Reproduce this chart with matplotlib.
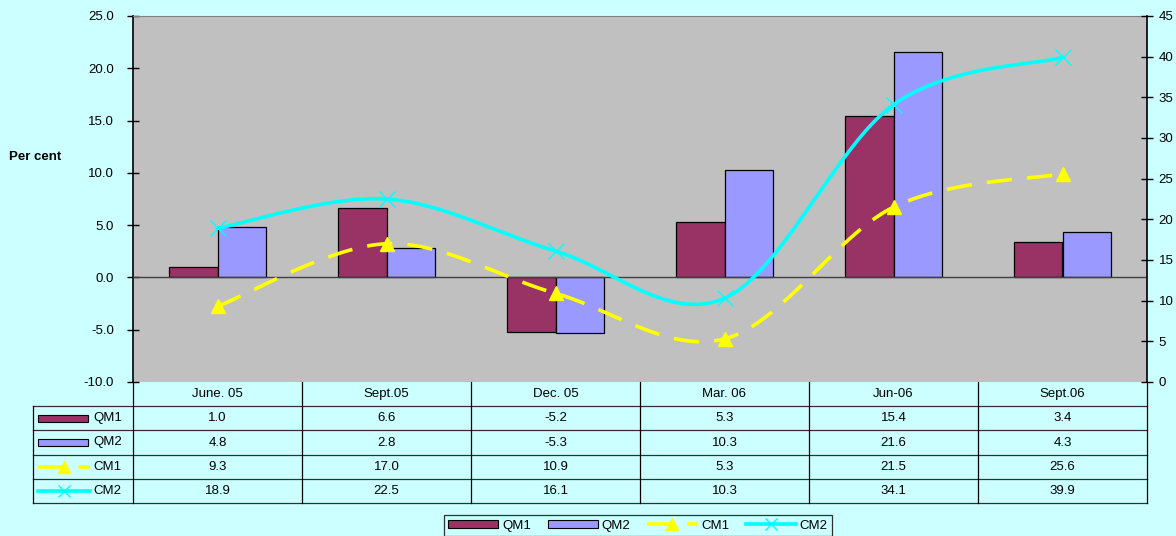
import numpy as np
import matplotlib

matplotlib.use("Agg")
import matplotlib.pyplot as plt
from matplotlib.patches import Rectangle
from matplotlib.lines import Line2D

FS = 9.5
plt.rcParams.update({"font.family": ["Liberation Sans", "DejaVu Sans"], "font.size": FS})

# ── data ──
categories = ["June. 05", "Sept.05", "Dec. 05", "Mar. 06", "Jun-06", "Sept.06"]
qm1 = [1.0, 6.6, -5.2, 5.3, 15.4, 3.4]
qm2 = [4.8, 2.8, -5.3, 10.3, 21.6, 4.3]
cm1 = [9.3, 17.0, 10.9, 5.3, 21.5, 25.6]
cm2 = [18.9, 22.5, 16.1, 10.3, 34.1, 39.9]
series_names = ["QM1", "QM2", "CM1", "CM2"]

# ── Excel-ish palette ──
BG = "#CCFFFF"
PLOT_BG = "#C0C0C0"
MAROON = "#993366"
PERI = "#9999FF"
YELLOW = "#FFFF00"
CYAN = "#00FFFF"
DASH = (7, 4.2)

W, H = 1176, 536


def px(x0, y0, x1, y1):
    """pixel box (top-left origin) -> figure axes rect"""
    return [x0 / W, 1 - y1 / H, (x1 - x0) / W, (y1 - y0) / H]


def smooth(xs, ys, n=40):
    # Excel-style smoothed line: Bezier through points, Catmull-Rom control points
    pts = np.column_stack([xs, ys]).astype(float)
    P = np.vstack([pts[0], pts, pts[-1]])
    t = np.linspace(0, 1, n)[:, None]
    out = []
    for i in range(len(pts) - 1):
        p0, p1, p2, p3 = P[i], P[i + 1], P[i + 2], P[i + 3]
        c1 = p1 + (p2 - p0) / 6
        c2 = p2 - (p3 - p1) / 6
        seg = (1 - t) ** 3 * p1 + 3 * (1 - t) ** 2 * t * c1 + 3 * (1 - t) * t ** 2 * c2 + t ** 3 * p2
        out.append(seg if i == 0 else seg[1:])
    out = np.vstack(out)
    return out[:, 0], out[:, 1]


fig = plt.figure(figsize=(W / 100, H / 100), dpi=100, facecolor=BG)

ax = fig.add_axes(px(133, 16, 1147, 382))
ax.set_facecolor(PLOT_BG)
x = np.arange(len(categories))
bw = 1 / 3.5
ax.bar(x - bw / 2, qm1, width=bw, color=MAROON, edgecolor="black", linewidth=0.9, zorder=2)
ax.bar(x + bw / 2, qm2, width=bw, color=PERI, edgecolor="black", linewidth=0.9, zorder=2)
ax.axhline(0, color="#404040", linewidth=1.0, zorder=3)
ax.set_xlim(-0.5, len(categories) - 0.5)
ax.set_ylim(-10, 25)
ax.set_yticks(np.arange(-10, 26, 5))
ax.set_yticklabels([f"{v:.1f}" for v in np.arange(-10, 26, 5)])
ax.set_xticks([])
ax.tick_params(axis="y", direction="inout", length=8, width=1, pad=9.5, labelsize=FS)
ax.spines["left"].set_linewidth(1.2)
ax.spines["bottom"].set_visible(False)
ax.spines["top"].set_color("#808080")
ax.spines["right"].set_visible(False)

ax2 = ax.twinx()
ax2.set_ylim(0, 45)
ax2.set_yticks(np.arange(0, 46, 5))
ax2.tick_params(axis="y", direction="inout", length=8, width=1, pad=4.5, labelsize=FS)
ax2.spines["right"].set_linewidth(1.2)
for s in ("top", "left", "bottom"):
    ax2.spines[s].set_visible(False)
sx, sy = smooth(x, cm1)
ax2.plot(sx, sy, color=YELLOW, linewidth=2.6, dashes=DASH, zorder=4)
ax2.plot(x, cm1, linestyle="none", marker="^", markersize=10, color=YELLOW, zorder=5)
sx, sy = smooth(x, cm2)
ax2.plot(sx, sy, color=CYAN, linewidth=2.6, zorder=4)
ax2.plot(x, cm2, linestyle="none", marker="x", markersize=11, markeredgewidth=1.0, color=CYAN, zorder=5)

fig.text(35 / W, 1 - 157 / H, "Per cent", fontsize=FS, fontweight="bold", ha="center", va="center")

# ── data table ──
tab = fig.add_axes(px(33, 382, 1147, 503))
L = -100 / 169
tab.set_xlim(L, len(categories))
tab.set_ylim(5, 0)
tab.axis("off")
tab.patch.set_visible(False)
n = len(categories)
for i, c in enumerate(categories):
    tab.text(i + 0.5, 0.5, c, ha="center", va="center", fontsize=FS)
rows = [qm1, qm2, cm1, cm2]
for r, vals in enumerate(rows, start=1):
    for i, v in enumerate(vals):
        tab.text(i + 0.5, r + 0.5, f"{v:.1f}", ha="center", va="center", fontsize=FS)
    tab.text(L + 60 / 169, r + 0.5, series_names[r - 1], ha="left", va="center", fontsize=FS)
# grid lines
for r in range(1, 6):
    tab.plot([L, n], [r, r], color="#303030", linewidth=0.9, clip_on=False)
for i in range(n + 1):
    tab.plot([i, i], [0, 5], color="black", linewidth=0.9, clip_on=False)
tab.plot([L, L], [1, 5], color="black", linewidth=0.9, clip_on=False)
# legend keys inside the table
kx0, kx1 = L + 5 / 169, L + 55 / 169
tab.add_patch(Rectangle((kx0, 1.36), kx1 - kx0, 0.28, facecolor=MAROON, edgecolor="black", linewidth=0.8))
tab.add_patch(Rectangle((kx0, 2.36), kx1 - kx0, 0.28, facecolor=PERI, edgecolor="black", linewidth=0.8))
kx1b = L + 57 / 169
tab.plot([kx0, kx1b], [3.5, 3.5], color=YELLOW, linewidth=2.6, dashes=DASH)
tab.plot([(kx0 + kx1b) / 2], [3.5], marker="^", markersize=8, color=YELLOW, linestyle="none")
tab.plot([kx0, kx1b], [4.5, 4.5], color=CYAN, linewidth=2.6)
tab.plot([(kx0 + kx1b) / 2], [4.5], marker="x", markersize=9, markeredgewidth=1.0, color=CYAN, linestyle="none")

# ── bottom legend ──
handles = [
    Rectangle((0, 0), 1, 1, facecolor=MAROON, edgecolor="black", linewidth=0.8),
    Rectangle((0, 0), 1, 1, facecolor=PERI, edgecolor="black", linewidth=0.8),
    Line2D([], [], color=YELLOW, linewidth=2.6, dashes=DASH, marker="^", markersize=8),
    Line2D([], [], color=CYAN, linewidth=2.6, marker="x", markersize=9, markeredgewidth=1.0),
]
leg = fig.legend(
    handles,
    series_names,
    loc="upper center",
    bbox_to_anchor=(638 / W, 1 - 515 / H),
    borderaxespad=0,
    ncol=4,
    frameon=True,
    fancybox=False,
    edgecolor="black",
    facecolor=BG,
    fontsize=FS,
    handlelength=3.8,
    handleheight=0.55,
    columnspacing=1.25,
    borderpad=0.35,
    handletextpad=0.3,
)
leg.get_frame().set_linewidth(0.9)

fig.savefig("out.png", dpi=100, facecolor=BG)
